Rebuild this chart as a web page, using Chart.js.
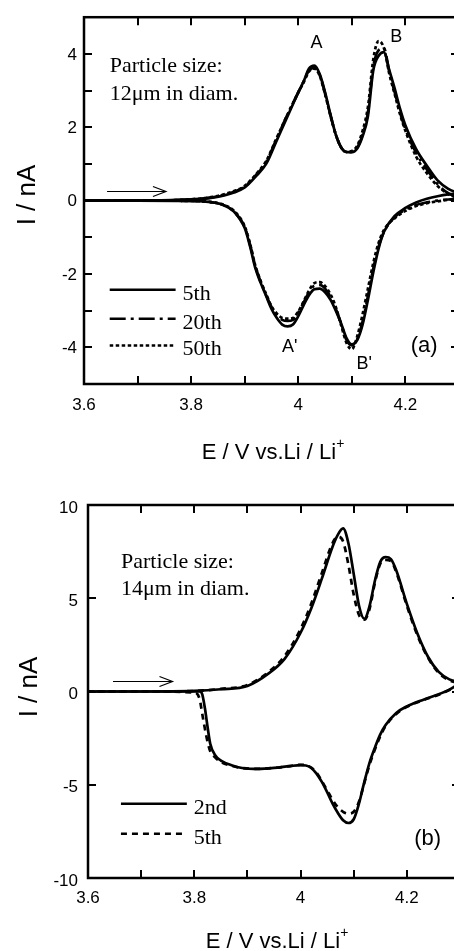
<!DOCTYPE html>
<html>
<head>
<meta charset="utf-8">
<script src="https://cdn.jsdelivr.net/npm/chart.js@4.4.1/dist/chart.umd.min.js"></script>
<style>
  html, body { margin: 0; padding: 0; background: #fff; overflow: hidden; width: 454px; height: 951px; }
  canvas { display: block; }
</style>
</head>
<body>
<canvas id="cvA" width="470" height="470"></canvas>
<canvas id="cvB" width="470" height="481"></canvas>
<script>
// ---- panel (a): 12 um particle, cycles 5/20/50 ----
const cyclesA = ['5th', '20th', '50th'];
const potUpA = [3.60, 3.70, 3.78, 3.84, 3.88, 3.90, 3.92, 3.94, 3.96, 3.98, 4.00, 4.01, 4.02, 4.03, 4.04, 4.05, 4.06, 4.07,
  4.08, 4.09, 4.10, 4.11, 4.12, 4.13, 4.14, 4.15, 4.16, 4.17, 4.18, 4.19, 4.20, 4.22, 4.24, 4.26, 4.28, 4.30];
const potDownA = [4.30, 4.28, 4.26, 4.24, 4.22, 4.20, 4.18, 4.16, 4.15, 4.14, 4.13, 4.12, 4.11, 4.10, 4.09, 4.08, 4.07, 4.06,
  4.05, 4.04, 4.03, 4.02, 4.01, 4.00, 3.99, 3.98, 3.97, 3.96, 3.95, 3.94, 3.93, 3.92, 3.91, 3.90, 3.88, 3.86, 3.84, 3.80, 3.70, 3.60];

const upA5 = [0, 0, 0.02, 0.08, 0.22, 0.36, 0.65, 1.0, 1.65, 2.3, 2.95, 3.25, 3.6, 3.68, 3.45, 2.95, 2.35, 1.8,
  1.45, 1.32, 1.32, 1.42, 1.75, 2.3, 3.55, 3.95, 4.05, 3.55, 3.05, 2.5, 2.05, 1.4, 0.95, 0.55, 0.32, 0.2];
const upA20 = [0, 0, 0.02, 0.09, 0.24, 0.38, 0.68, 1.05, 1.7, 2.35, 2.95, 3.25, 3.55, 3.62, 3.42, 2.92, 2.33, 1.8,
  1.45, 1.32, 1.33, 1.45, 1.8, 2.4, 3.65, 4.1, 4.15, 3.5, 2.95, 2.4, 1.95, 1.3, 0.85, 0.45, 0.2, 0.08];
const upA50 = [0, 0, 0.02, 0.1, 0.26, 0.4, 0.7, 1.08, 1.72, 2.35, 2.95, 3.22, 3.52, 3.6, 3.4, 2.9, 2.32, 1.8,
  1.45, 1.33, 1.35, 1.5, 1.9, 2.55, 3.85, 4.35, 4.15, 3.45, 2.9, 2.35, 1.9, 1.2, 0.75, 0.4, 0.18, 0.05];

const downA5 = [0.2, 0.17, 0.12, 0.05, -0.05, -0.2, -0.42, -0.85, -1.3, -1.95, -2.7, -3.38, -3.8, -3.92, -3.75, -3.35, -3.0, -2.7,
  -2.5, -2.4, -2.42, -2.58, -2.85, -3.15, -3.38, -3.43, -3.38, -3.2, -2.95, -2.6, -2.25, -1.85, -1.25, -0.75, -0.3, -0.12, -0.05, -0.01, 0, 0];
const downA20 = [0.05, 0.03, 0.0, -0.05, -0.12, -0.25, -0.45, -0.85, -1.25, -1.85, -2.6, -3.3, -3.78, -3.95, -3.8, -3.35, -2.95, -2.62,
  -2.4, -2.3, -2.32, -2.5, -2.78, -3.05, -3.25, -3.28, -3.25, -3.12, -2.9, -2.58, -2.22, -1.8, -1.2, -0.72, -0.3, -0.12, -0.05, -0.01, 0, 0];
const downA50 = [0.05, 0.02, -0.02, -0.07, -0.15, -0.28, -0.48, -0.8, -1.15, -1.7, -2.4, -3.1, -3.7, -4.05, -3.88, -3.4, -2.9, -2.55,
  -2.33, -2.22, -2.25, -2.45, -2.75, -3.02, -3.2, -3.22, -3.2, -3.08, -2.88, -2.55, -2.2, -1.78, -1.18, -0.7, -0.28, -0.11, -0.04, -0.01, 0, 0];

// ---- panel (b): 14 um particle, cycles 2/5 ----
const cyclesB = ['2nd', '5th'];
const potUpB = [3.60, 3.70, 3.80, 3.85, 3.90, 3.94, 3.97, 4.00, 4.02, 4.04, 4.06, 4.07, 4.08, 4.09, 4.10, 4.11, 4.12, 4.13,
  4.14, 4.15, 4.16, 4.17, 4.18, 4.20, 4.22, 4.24, 4.26, 4.28, 4.30];
const potDownB = [4.30, 4.28, 4.26, 4.23, 4.20, 4.18, 4.16, 4.15, 4.14, 4.13, 4.12, 4.11, 4.10, 4.09, 4.08, 4.07, 4.06, 4.05,
  4.04, 4.03, 4.02, 4.01, 4.00, 3.98, 3.95, 3.92, 3.89, 3.87, 3.85, 3.84, 3.83, 3.825, 3.82, 3.815, 3.81, 3.80, 3.70, 3.60];

const upB2 = [0, 0, 0.03, 0.12, 0.3, 0.97, 1.75, 3.15, 4.45, 6.05, 7.75, 8.4, 8.75, 7.95, 6.3, 4.6, 3.9, 4.6,
  5.95, 6.95, 7.2, 7.1, 6.5, 4.7, 3.1, 1.85, 1.05, 0.65, 0.5];
const upB5 = [0, 0, 0.03, 0.14, 0.35, 1.05, 1.9, 3.35, 4.7, 6.35, 7.95, 8.3, 8.05, 6.8, 5.2, 4.1, 3.85, 4.45,
  5.85, 6.85, 7.05, 7.0, 6.4, 4.6, 3.0, 1.8, 1.0, 0.6, 0.45];
const downB2 = [0.45, 0.1, -0.15, -0.45, -0.8, -1.15, -1.8, -2.3, -3.0, -3.8, -4.85, -6.0, -6.85, -7.05, -6.9, -6.5, -6.0, -5.4,
  -4.85, -4.4, -4.1, -3.97, -3.95, -4.0, -4.1, -4.15, -4.1, -3.95, -3.7, -3.45, -2.8, -1.9, -0.9, -0.15, 0, 0, 0, 0];
const downB5 = [0.4, 0.08, -0.17, -0.47, -0.82, -1.2, -1.85, -2.4, -3.1, -3.9, -4.9, -5.9, -6.45, -6.55, -6.45, -6.2, -5.8, -5.3,
  -4.8, -4.35, -4.08, -3.95, -3.93, -4.0, -4.1, -4.15, -4.1, -3.98, -3.78, -3.55, -3.2, -2.7, -2.0, -1.2, -0.4, -0.05, 0, 0];

Chart.defaults.font.family = '"Liberation Sans", Arial, sans-serif';
Chart.defaults.color = '#000';

function pts(xs, ys) {
  return xs.map((x, i) => ({ x: x, y: ys[i] }));
}

function sweepSets(label, dash, up, potUp, down, potDown) {
  const common = {
    label: label,
    showLine: true,
    borderColor: '#000',
    borderWidth: 2.7,
    borderDash: dash,
    pointRadius: 0,
    cubicInterpolationMode: 'monotone',
    fill: false
  };
  return [
    Object.assign({}, common, { data: pts(potUp, up) }),
    Object.assign({}, common, { data: pts(potDown, down) })
  ];
}

// frame, inward ticks, legend, labels
const cvNotes = {
  id: 'cvNotes',
  afterDatasetsDraw(chart, args, o) {
    const { ctx, chartArea: a } = chart;
    const sx = chart.scales.x, sy = chart.scales.y;
    const X = v => sx.getPixelForValue(v), Y = v => sy.getPixelForValue(v);
    ctx.save();
    ctx.strokeStyle = '#000';
    ctx.fillStyle = '#000';

    ctx.lineWidth = 2;
    ctx.beginPath();
    sx.ticks.forEach(t => {
      const p = Math.round(X(t.value));
      ctx.moveTo(p, a.bottom); ctx.lineTo(p, a.bottom - 8);
      ctx.moveTo(p, a.top); ctx.lineTo(p, a.top + 8);
    });
    sy.ticks.forEach(t => {
      const p = Math.round(Y(t.value));
      ctx.moveTo(a.left, p); ctx.lineTo(a.left + 8, p);
      ctx.moveTo(a.right, p); ctx.lineTo(a.right - 8, p);
    });
    ctx.stroke();
    ctx.lineWidth = 2.5;
    ctx.strokeRect(a.left, a.top, a.right - a.left, a.bottom - a.top);

    // caption
    ctx.font = '22px "Liberation Serif", "Times New Roman", serif';
    ctx.textAlign = 'left';
    ctx.textBaseline = 'alphabetic';
    o.caption.lines.forEach((s, i) => ctx.fillText(s, X(o.caption.x), Y(o.caption.y[i])));

    // sweep direction arrow
    const ay = Math.round(Y(o.arrow.y)) + 0.5, ax1 = X(o.arrow.from), ax2 = X(o.arrow.to);
    ctx.lineWidth = 1.2;
    ctx.beginPath();
    ctx.moveTo(ax1, ay); ctx.lineTo(ax2, ay);
    ctx.moveTo(ax2 - 13, ay - 5); ctx.lineTo(ax2, ay); ctx.lineTo(ax2 - 13, ay + 5);
    ctx.stroke();

    // legend
    o.legend.labels.forEach((lab, i) => {
      const ds = chart.data.datasets.find(d => d.label === lab);
      const ly = Y(o.legend.rows[i]);
      ctx.lineWidth = 2.5;
      ctx.setLineDash(ds.borderDash || []);
      ctx.beginPath();
      ctx.moveTo(X(o.legend.x0), ly); ctx.lineTo(X(o.legend.x1), ly);
      ctx.stroke();
      ctx.setLineDash([]);
      ctx.fillText(lab, X(o.legend.tx), ly + 10);
    });

    // peak and panel labels
    ctx.textAlign = 'center';
    ctx.textBaseline = 'middle';
    ctx.font = '18px "Liberation Sans", Arial, sans-serif';
    (o.peaks || []).forEach(p => ctx.fillText(p.t, X(p.x), Y(p.y)));
    ctx.font = '22px "Liberation Sans", Arial, sans-serif';
    ctx.fillText(o.panel.t, X(o.panel.x), Y(o.panel.y));

    // axis titles
    ctx.textBaseline = 'alphabetic';
    ctx.font = '22px "Liberation Sans", Arial, sans-serif';
    const main = 'E / V vs.Li / Li';
    const w = ctx.measureText(main).width;
    ctx.font = '14px "Liberation Sans", Arial, sans-serif';
    const wp = ctx.measureText('+').width;
    const left = o.xTitle.x - (w + wp) / 2;
    ctx.textAlign = 'left';
    ctx.font = '22px "Liberation Sans", Arial, sans-serif';
    ctx.fillText(main, left, o.xTitle.y);
    ctx.font = '14px "Liberation Sans", Arial, sans-serif';
    ctx.fillText('+', left + w, o.xTitle.y - 11);

    ctx.translate(o.yTitle.x, o.yTitle.y);
    ctx.rotate(-Math.PI / 2);
    ctx.textAlign = 'center';
    ctx.textBaseline = 'middle';
    ctx.font = '26px "Liberation Sans", Arial, sans-serif';
    ctx.fillText('I / nA', 0, 0);
    ctx.restore();
  }
};

function xTickLabel(v) {
  const k = Math.round(v * 10);
  return k % 2 === 0 ? String(k / 10) : '';
}

function makeChart(id, datasets, cfg) {
  return new Chart(document.getElementById(id), {
    type: 'scatter',
    data: { datasets: datasets },
    plugins: [cvNotes],
    options: {
      responsive: false,
      animation: false,
      layout: { padding: { top: cfg.padTop, right: cfg.padRight, left: 0, bottom: 0 } },
      plugins: { legend: { display: false }, tooltip: { enabled: false }, cvNotes: cfg.notes },
      scales: {
        x: {
          type: 'linear', min: 3.6, max: 4.3,
          grid: { display: false, drawTicks: false },
          border: { display: false },
          ticks: { stepSize: 0.1, padding: cfg.xPad, font: { size: 17 }, color: '#000', maxRotation: 0, autoSkip: false, callback: xTickLabel },
          afterFit: s => { s.height = cfg.xHeight; }
        },
        y: {
          type: 'linear', min: cfg.yMin, max: cfg.yMax,
          grid: { display: false, drawTicks: false },
          border: { display: false },
          ticks: { stepSize: cfg.yStep, padding: cfg.yPad, labelOffset: cfg.yLabelOffset, font: { size: 17 }, color: '#000', autoSkip: false, callback: cfg.yLabel },
          afterFit: s => { s.width = cfg.yWidth; }
        }
      }
    }
  });
}

const dashA = { '5th': [], '20th': [16, 5, 3, 5], '50th': [3.5, 2.5] };
const setsA = [].concat(
  sweepSets(cyclesA[2], dashA['50th'], upA50, potUpA, downA50, potDownA),
  sweepSets(cyclesA[1], dashA['20th'], upA20, potUpA, downA20, potDownA),
  sweepSets(cyclesA[0], dashA['5th'], upA5, potUpA, downA5, potDownA)
);

makeChart('cvA', setsA, {
  padTop: 13, padRight: 10, xHeight: 86, yWidth: 84, xPad: 11, yPad: 7, yLabelOffset: 1,
  yMin: -5, yMax: 5, yStep: 1,
  yLabel: v => (v % 2 === 0 ? String(v) : ''),
  notes: {
    caption: { x: 3.648, y: [3.51, 2.73], lines: ['Particle size:', '12\u03bcm in diam.'] },
    arrow: { from: 3.643, to: 3.753, y: 0.27 },
    legend: { labels: cyclesA, x0: 3.648, x1: 3.771, tx: 3.784, rows: [-2.43, -3.22, -3.95] },
    peaks: [
      { t: 'A', x: 4.034, y: 4.3 }, { t: 'B', x: 4.183, y: 4.45 },
      { t: "A'", x: 3.984, y: -4.0 }, { t: "B'", x: 4.123, y: -4.46 }
    ],
    panel: { t: '(a)', x: 4.235, y: -3.97 },
    xTitle: { x: 273, y: 459 },
    yTitle: { x: 28, y: 195 }
  }
});

const dashB = { '2nd': [], '5th': [6, 5] };
const setsB = [].concat(
  sweepSets(cyclesB[1], dashB['5th'], upB5, potUpB, downB5, potDownB),
  sweepSets(cyclesB[0], dashB['2nd'], upB2, potUpB, downB2, potDownB)
);

makeChart('cvB', setsB, {
  padTop: 35, padRight: 8, xHeight: 73, yWidth: 88, xPad: 10, yPad: 10, yLabelOffset: 3,
  yMin: -10, yMax: 10, yStep: 5,
  yLabel: v => String(v),
  notes: {
    caption: { x: 3.662, y: [6.61, 5.16], lines: ['Particle size:', '14\u03bcm in diam.'] },
    arrow: { from: 3.647, to: 3.759, y: 0.54 },
    legend: { labels: cyclesB, x0: 3.662, x1: 3.786, tx: 3.799, rows: [-6.02, -7.63] },
    peaks: [],
    panel: { t: '(b)', x: 4.239, y: -7.9 },
    xTitle: { x: 277, y: 478 },
    yTitle: { x: 30, y: 217 }
  }
});
</script>
</body>
</html>
